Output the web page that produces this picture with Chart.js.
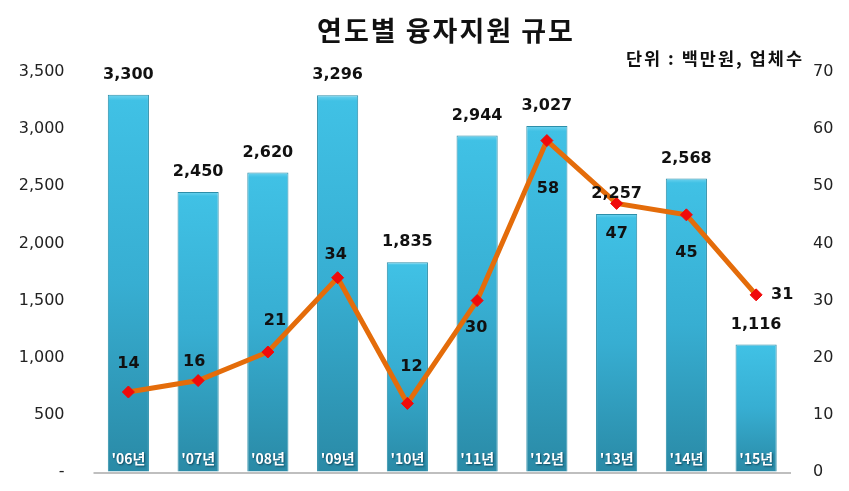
<!DOCTYPE html>
<html>
<head>
<meta charset="utf-8">
<script src="https://cdn.jsdelivr.net/npm/chart.js@4.4.1/dist/chart.umd.min.js"></script>
<style>
  html, body { margin: 0; padding: 0; background: #ffffff; }
  #wrap { width: 849px; height: 491px; position: relative; }
</style>
</head>
<body>
<div id="wrap"><canvas id="c"></canvas></div>
<script>
const categories = ["'06년", "'07년", "'08년", "'09년", "'10년", "'11년", "'12년", "'13년", "'14년", "'15년"];
const fundingAmounts = [3300, 2450, 2620, 3296, 1835, 2944, 3027, 2257, 2568, 1116];
const companyCounts = [14, 16, 21, 34, 12, 30, 58, 47, 45, 31];
const leftTicks = [0, 500, 1000, 1500, 2000, 2500, 3000, 3500];
const rightTicks = [0, 10, 20, 30, 40, 50, 60, 70];
const titleText = '연도별 융자지원 규모';
const unitText = '단위 : 백만원, 업체수';

// label placement relative to each line point (style, not data)
const lineLabelOffsets = [[0,-28],[-4,-19],[7,-31],[-2,-23],[4,-37],[-1,27],[1,48],[0,30],[0,38],[26,0]];

const KR = "'Noto Sans CJK KR', sans-serif";
const NUM = "'DejaVu Sans', 'Noto Sans CJK KR', sans-serif";

function fmt(v) { return v.toLocaleString('en-US'); }

const overlayPlugin = {
  id: 'overlay',
  afterDatasetsDraw(chart) {
    const ctx = chart.ctx;
    const x = chart.scales.x;
    const y = chart.scales.y;
    const y1 = chart.scales.y1;
    const area = chart.chartArea;
    ctx.save();
    // baseline
    ctx.strokeStyle = '#BFBFBF';
    ctx.lineWidth = 2;
    ctx.beginPath();
    ctx.moveTo(area.left, area.bottom + 1);
    ctx.lineTo(area.right, area.bottom + 1);
    ctx.stroke();
    // category labels inside bars
    ctx.font = "bold 14px " + KR;
    ctx.textAlign = 'center';
    ctx.textBaseline = 'middle';
    categories.forEach((c, i) => {
      const px = x.getPixelForValue(i);
      ctx.shadowColor = 'rgba(0,40,60,0.7)';
      ctx.shadowBlur = 2;
      ctx.shadowOffsetX = 1;
      ctx.shadowOffsetY = 1;
      ctx.fillStyle = '#ffffff';
      ctx.fillText(c, px, area.bottom - 13);
    });
    ctx.shadowColor = 'transparent';
    ctx.shadowBlur = 0; ctx.shadowOffsetX = 0; ctx.shadowOffsetY = 0;
    // bar value labels
    ctx.font = "bold 16px " + NUM;
    ctx.fillStyle = '#111111';
    fundingAmounts.forEach((v, i) => {
      ctx.fillText(fmt(v), x.getPixelForValue(i), y.getPixelForValue(v) - 20);
    });
    // line value labels
    companyCounts.forEach((v, i) => {
      const o = lineLabelOffsets[i];
      ctx.fillText(String(v), x.getPixelForValue(i) + o[0], y1.getPixelForValue(v) + o[1]);
    });
    ctx.restore();
  },
  afterDraw(chart) {
    const ctx = chart.ctx;
    ctx.save();
    ctx.fillStyle = '#111111';
    ctx.textBaseline = 'middle';
    ctx.textAlign = 'center';
    ctx.font = "bold 27px " + KR;
    ctx.letterSpacing = '2px';
    ctx.fillText(titleText, 446, 31);
    ctx.textAlign = 'right';
    ctx.font = "bold 17.5px " + KR;
    ctx.letterSpacing = '2px';
    ctx.fillText(unitText, 804, 58);
    ctx.restore();
  }
};

function barGradient(context) {
  const chart = context.chart;
  const area = chart.chartArea;
  if (!area) return '#3BB8DC';
  const v = context.raw;
  const top = chart.scales.y.getPixelForValue(v);
  const g = chart.ctx.createLinearGradient(0, top, 0, area.bottom);
  g.addColorStop(0, '#6FD3EF');
  g.addColorStop(0.015, '#40C1E5');
  g.addColorStop(0.5, '#37AED2');
  g.addColorStop(1, '#2A8AA6');
  return g;
}

new Chart(document.getElementById('c'), {
  data: {
    labels: categories,
    datasets: [
      {
        type: 'line',
        label: '업체수',
        data: companyCounts,
        yAxisID: 'y1',
        order: 0,
        borderColor: '#E46C0A',
        borderWidth: 5,
        tension: 0,
        pointStyle: 'rectRot',
        pointRadius: 6,
        pointBackgroundColor: '#F00A0A',
        pointBorderColor: '#F00A0A',
        pointBorderWidth: 1
      },
      {
        type: 'bar',
        label: '융자금액',
        data: fundingAmounts,
        yAxisID: 'y',
        order: 1,
        backgroundColor: barGradient,
        borderColor: '#2D8EA9',
        borderWidth: 1,
        barPercentage: 0.59,
        categoryPercentage: 1.0
      }
    ]
  },
  options: {
    responsive: true,
    maintainAspectRatio: false,
    animation: false,
    layout: { padding: { top: 72, left: 0, right: 0, bottom: 19 } },
    plugins: {
      legend: { display: false },
      title: { display: false },
      tooltip: { enabled: false }
    },
    scales: {
      x: {
        display: false,
        offset: true,
        grid: { display: false }
      },
      y: {
        position: 'left',
        min: 0,
        max: 3500,
        afterBuildTicks(s) { s.ticks = leftTicks.map(v => ({ value: v })); },
        grid: { display: true, drawOnChartArea: false, drawTicks: true, tickLength: 29, color: 'rgba(0,0,0,0)' },
        border: { display: false },
        ticks: {
          padding: 0,
          color: '#222222',
          font: { family: NUM, size: 16 },
          callback: v => v === 0 ? '-' : fmt(v)
        },
        afterFit(s) { s.width = 93.5; }
      },
      y1: {
        position: 'right',
        min: 0,
        max: 70,
        afterBuildTicks(s) { s.ticks = rightTicks.map(v => ({ value: v })); },
        grid: { display: true, drawOnChartArea: false, drawTicks: true, tickLength: 22, color: 'rgba(0,0,0,0)' },
        border: { display: false },
        ticks: {
          padding: 0,
          color: '#222222',
          font: { family: NUM, size: 16 }
        },
        afterFit(s) { s.width = 58; }
      }
    }
  },
  plugins: [overlayPlugin]
});
</script>
</body>
</html>
